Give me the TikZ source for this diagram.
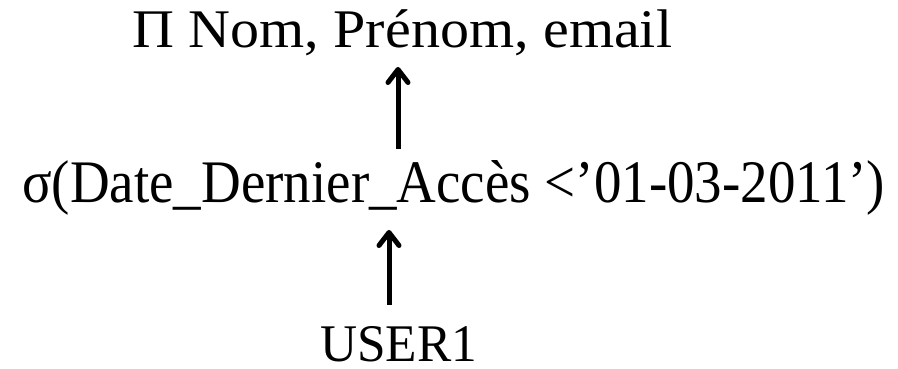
\documentclass[tikz,border=0pt]{standalone}
\usepackage{fontspec}
\setmainfont{Liberation Serif}
\usetikzlibrary{arrows.meta}
\begin{document}
\begin{tikzpicture}[x=1pt,y=1pt,
  lbl/.style={inner sep=0pt, anchor=base west},
  arr/.style={line width=5pt, -{Straight Barb[length=13pt,width=20pt,line width=5pt,round]}}]
\useasboundingbox (0,0) rectangle (898,369);
\node[lbl] (proj) at (132,321) {\resizebox{540pt}{\height}{\fontsize{54.4}{60}\selectfont Π Nom, Prénom, email}};
\node[lbl] (sel) at (22,166) {\resizebox{863pt}{\height}{\fontsize{60.4}{66}\selectfont σ(Date\_Dernier\_Accès <’01-03-2011’)}};
\node[lbl] (user) at (320,7) {\resizebox{157pt}{\height}{\fontsize{52.9}{58}\selectfont USER1}};
\coordinate (a1s) at (398,220);
\coordinate (a1e) at (398,302);
\coordinate (a2s) at (389,64);
\coordinate (a2e) at (389,139);
\draw[arr] (a1s) -- (a1e);
\draw[arr] (a2s) -- (a2e);
\end{tikzpicture}
\end{document}
